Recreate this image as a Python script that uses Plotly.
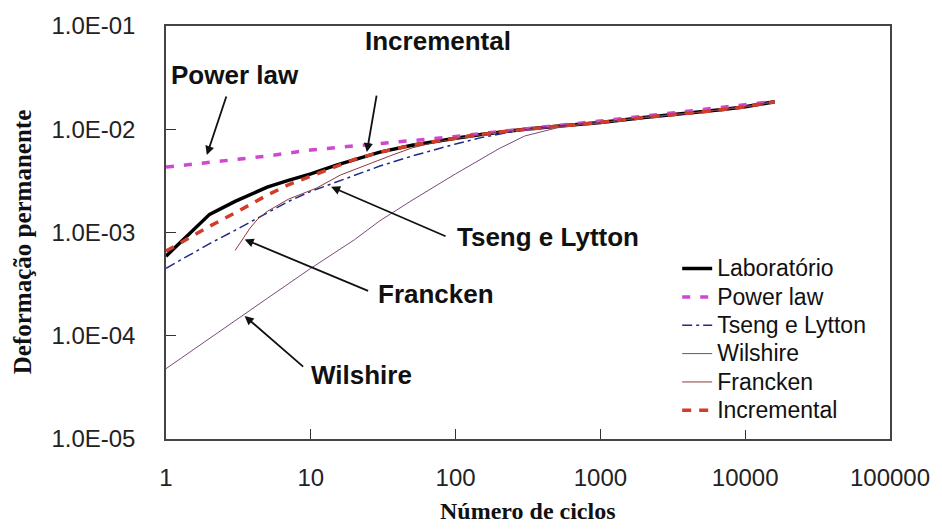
import plotly.graph_objects as go

# ---------------- data ----------------
lab_N = [1, 2, 3, 4, 5, 7, 10, 15, 20, 30, 50, 70, 100, 150, 200, 300, 500, 700,
         1000, 2000, 3000, 5000, 7000, 10000, 16000]
lab_eps = [5.9e-4, 1.5e-3, 2.0e-3, 2.4e-3, 2.75e-3, 3.2e-3, 3.7e-3, 4.5e-3, 5.1e-3,
           6.0e-3, 7.0e-3, 7.6e-3, 8.2e-3, 8.9e-3, 9.4e-3, 1.0e-2, 1.07e-2, 1.11e-2,
           1.16e-2, 1.3e-2, 1.37e-2, 1.47e-2, 1.55e-2, 1.65e-2, 1.85e-2]

pow_N = [1, 2, 5, 10, 20, 50, 100, 200, 500, 1000, 2000, 5000, 10000, 16000]
pow_eps = [4.3e-3, 4.8e-3, 5.5e-3, 6.3e-3, 6.9e-3, 7.8e-3, 8.5e-3, 9.5e-3, 1.08e-2,
           1.2e-2, 1.34e-2, 1.54e-2, 1.72e-2, 1.86e-2]

tseng_N = [1, 2, 3, 4, 5, 7, 10, 15, 20, 30, 50, 70, 100, 150, 200, 300, 500,
           1000, 2000, 5000, 10000, 16000]
tseng_eps = [4.5e-4, 7.8e-4, 1.05e-3, 1.3e-3, 1.55e-3, 2.0e-3, 2.5e-3, 3.1e-3, 3.6e-3,
             4.4e-3, 5.5e-3, 6.3e-3, 7.2e-3, 8.3e-3, 9.0e-3, 1.0e-2, 1.07e-2,
             1.16e-2, 1.3e-2, 1.47e-2, 1.65e-2, 1.85e-2]

wil_N = [1, 2, 3, 5, 10, 20, 30, 50, 100, 150, 200, 300, 400, 500, 700, 1000,
         2000, 5000, 10000, 16000]
wil_eps = [4.8e-5, 9.5e-5, 1.4e-4, 2.3e-4, 4.5e-4, 8.5e-4, 1.3e-3, 2.05e-3, 3.7e-3,
           5.1e-3, 6.5e-3, 8.6e-3, 9.6e-3, 1.03e-2, 1.1e-2, 1.15e-2, 1.3e-2,
           1.47e-2, 1.65e-2, 1.85e-2]

fra_N = [3.0, 3.4, 3.8, 4.3, 5, 7, 11, 16, 24, 35, 50, 70, 100, 200, 500, 1000,
         2000, 5000, 10000, 16000]
fra_eps = [6.7e-4, 8.8e-4, 1.1e-3, 1.35e-3, 1.6e-3, 2.1e-3, 2.7e-3, 3.6e-3, 4.5e-3,
           5.5e-3, 6.6e-3, 7.4e-3, 8.1e-3, 9.4e-3, 1.06e-2, 1.16e-2, 1.3e-2,
           1.47e-2, 1.65e-2, 1.85e-2]

inc_N = [1, 2, 3, 4, 5, 7, 10, 15, 20, 30, 50, 100, 200, 500, 1000, 2000, 5000,
         10000, 16000]
inc_eps = [6.6e-4, 1.15e-3, 1.55e-3, 1.95e-3, 2.3e-3, 2.9e-3, 3.5e-3, 4.4e-3, 5.1e-3,
           6.0e-3, 7.0e-3, 8.2e-3, 9.4e-3, 1.07e-2, 1.16e-2, 1.3e-2, 1.47e-2,
           1.65e-2, 1.85e-2]

x_ticks = [1, 10, 100, 1000, 10000, 100000]
x_ticktext = ["1", "10", "100", "1000", "10000", "100000"]
y_ticks = [1e-5, 1e-4, 1e-3, 1e-2, 1e-1]
y_ticktext = ["1.0E-05", "1.0E-04", "1.0E-03", "1.0E-02", "1.0E-01"]

SANS = "Liberation Sans, Arial, sans-serif"
SERIF = "Liberation Serif, Times New Roman, serif"

fig = go.Figure()
series = [
    ("Laboratório", lab_N, lab_eps, dict(color="#000000", width=3.5)),
    ("Power law", pow_N, pow_eps, dict(color="#D048D0", width=3.5, dash="8px,10px")),
    ("Tseng e Lytton", tseng_N, tseng_eps,
     dict(color="#1F2A8A", width=1.5, dash="10px,4px,3px,4px")),
    ("Wilshire", wil_N, wil_eps, dict(color="#7B4A7B", width=1)),
    ("Francken", fra_N, fra_eps, dict(color="#8B3A3A", width=1)),
    ("Incremental", inc_N, inc_eps, dict(color="#D23C2A", width=3.5, dash="9px,8px")),
]
for name, xs, ys, ln in series:
    fig.add_trace(go.Scatter(
        x=xs, y=ys, mode="lines", line=ln, legendgroup=name,
        name='<span style="font-size:23px">%s</span>' % name))

# plot-area pixel geometry helpers
L, R, T, B = 166, 894, 23, 439
def px(X):
    return (X - L) / (R - L)
def py(Y):
    return (B - Y) / (B - T)

labels = [
    ("Power law", 235, 72),
    ("Incremental", 440, 38),
    ("Tseng e Lytton", 550, 236),
    ("Francken", 437, 293),
    ("Wilshire", 363, 375),
]
annotations = []
for txt, X, Y in labels:
    annotations.append(dict(text="<b>%s</b>" % txt, x=px(X), y=py(Y), xref="paper",
                            yref="paper", xanchor="center", yanchor="middle",
                            showarrow=False,
                            font=dict(family=SANS, size=26, color="#111")))

# arrows: head in data coords (log10), tail pixel offsets
arrows = [
    (0.282, -2.25, 20, -60),
    (1.387, -2.221, 10, -58),
    (1.140, -2.558, 116, 50),
    (0.543, -3.067, 125, 52),
    (0.543, -3.808, 60, 52),
]
for hx, hy, ax, ay in arrows:
    annotations.append(dict(text="", x=hx, y=hy, xref="x", yref="y", ax=ax, ay=ay,
                            axref="pixel", ayref="pixel", showarrow=True,
                            arrowhead=2, arrowsize=1, arrowwidth=1.8,
                            arrowcolor="#111", standoff=0))

annotations.append(dict(text="<b>Deformação permanente</b>", x=px(22), y=py(240),
                        xref="paper", yref="paper", xanchor="center",
                        yanchor="middle", textangle=-90, showarrow=False,
                        font=dict(family=SERIF, size=25, color="#111")))
annotations.append(dict(text="<b>Número de ciclos</b>", x=px(530), y=py(512),
                        xref="paper", yref="paper", xanchor="center",
                        yanchor="middle", showarrow=False,
                        font=dict(family=SERIF, size=24, color="#111")))

fig.update_layout(
    width=942, height=529,
    margin=dict(l=L, r=942 - R, t=T, b=529 - B),
    paper_bgcolor="white", plot_bgcolor="white",
    font=dict(family=SANS, size=24, color="#222"),
    showlegend=True,
    legend=dict(x=px(680), y=py(248), xanchor="left", yanchor="top",
                bgcolor="rgba(255,255,255,1)", borderwidth=0,
                font=dict(family=SANS, size=19.5, color="#111"),
                traceorder="normal", tracegroupgap=0),
    annotations=annotations,
)
fig.update_xaxes(type="log", range=[0, 5], tickvals=x_ticks, ticktext=x_ticktext,
                 ticks="inside", ticklen=10, tickcolor="#333", showline=True,
                 linecolor="#444", linewidth=1.5, mirror=True, showgrid=False,
                 zeroline=False, ticklabelstandoff=16,
                 tickfont=dict(family=SANS, size=24, color="#222"))
fig.update_yaxes(type="log", range=[-5, -1], tickvals=y_ticks, ticktext=y_ticktext,
                 ticks="inside", ticklen=10, tickcolor="#333", showline=True,
                 linecolor="#444", linewidth=1.5, mirror=True, showgrid=False,
                 zeroline=False, ticklabelstandoff=24,
                 tickfont=dict(family=SANS, size=24, color="#222"))

fig.write_html("out.html")
